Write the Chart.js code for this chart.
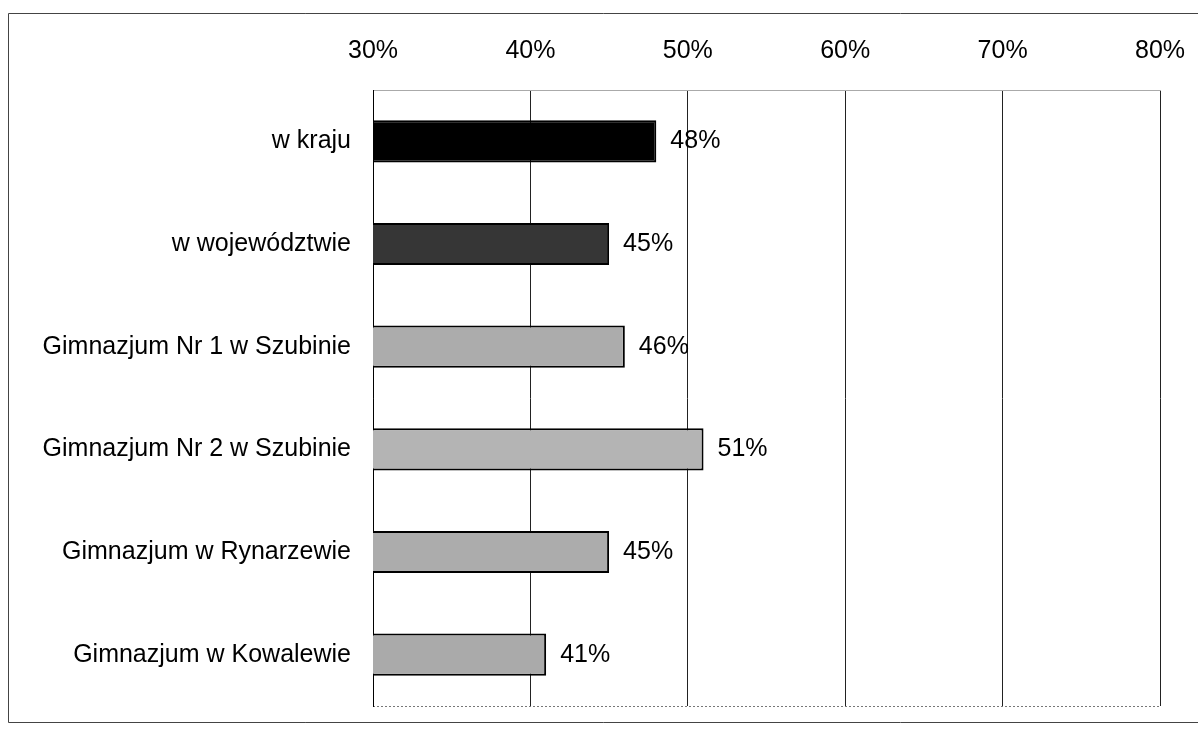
<!DOCTYPE html>
<html>
<head>
<meta charset="utf-8">
<script src="https://cdn.jsdelivr.net/npm/chart.js@4/dist/chart.umd.min.js"></script>
<style>
  html, body { margin: 0; padding: 0; background: #fff; }
  #wrap { width: 1198px; height: 733px; position: relative; }
</style>
</head>
<body>
<div id="wrap"><canvas id="chart" width="1198" height="733"></canvas></div>
<script>
// dane wykresu
const categories = [
  'w kraju',
  'w województwie',
  'Gimnazjum Nr 1 w Szubinie',
  'Gimnazjum Nr 2 w Szubinie',
  'Gimnazjum w Rynarzewie',
  'Gimnazjum w Kowalewie'
];
const values = [48, 45, 46, 51, 45, 41];
const tickValues = [30, 40, 50, 60, 70, 80];
const barColors = ['#000000', '#363636', '#acacac', '#b4b4b4', '#acacac', '#aaaaaa'];

const FONT = "'Liberation Sans', Arial, sans-serif";

// ramka dookoła całego wykresu + dolna krawędź obszaru wykresu
const framePlugin = {
  id: 'frame',
  beforeDraw(chart) {
    const ctx = chart.ctx;
    ctx.save();
    ctx.strokeStyle = '#444';
    ctx.lineWidth = 1;
    ctx.beginPath();
    ctx.moveTo(1198, 13.5);
    ctx.lineTo(8.5, 13.5);
    ctx.lineTo(8.5, 722.5);
    ctx.lineTo(1198, 722.5);
    ctx.stroke();
    const a = chart.chartArea;
    ctx.strokeStyle = '#777';
    ctx.setLineDash([2, 2]);
    ctx.beginPath();
    ctx.moveTo(a.left, Math.round(a.bottom) + 0.5);
    ctx.lineTo(a.right, Math.round(a.bottom) + 0.5);
    ctx.stroke();
    ctx.restore();
  }
};

// etykiety wartości przy słupkach
const valueLabels = {
  id: 'valueLabels',
  afterDatasetsDraw(chart) {
    const ctx = chart.ctx;
    const meta = chart.getDatasetMeta(0);
    ctx.save();
    ctx.font = '25px ' + FONT;
    ctx.fillStyle = '#000';
    ctx.textAlign = 'left';
    ctx.textBaseline = 'middle';
    meta.data.forEach((bar, i) => {
      ctx.fillText(values[i] + '%', bar.x + 14, bar.y);
    });
    ctx.restore();
  }
};

new Chart(document.getElementById('chart'), {
  type: 'bar',
  data: {
    labels: categories,
    datasets: [{
      data: values,
      backgroundColor: barColors,
      borderColor: '#000',
      borderWidth: 2,
      borderSkipped: false,
      categoryPercentage: 1,
      barPercentage: 0.41
    }]
  },
  options: {
    indexAxis: 'y',
    responsive: false,
    animation: false,
    layout: { padding: { left: 0, right: 38, top: 0, bottom: 27 } },
    plugins: {
      legend: { display: false },
      tooltip: { enabled: false }
    },
    scales: {
      x: {
        position: 'top',
        min: 30,
        max: 80,
        afterFit: s => { s.height = 90; s.paddingLeft = 0; s.paddingRight = 0; },
        afterBuildTicks: s => { s.ticks = tickValues.map(v => ({ value: v })); },
        ticks: {
          callback: v => v + '%',
          font: { size: 25, family: FONT },
          color: '#000',
          padding: 24,
          maxRotation: 0
        },
        grid: { color: '#222', lineWidth: 1, drawTicks: false },
        border: { color: '#aaa' }
      },
      y: {
        afterFit: s => { s.width = 373; s.paddingTop = 0; s.paddingBottom = 0; },
        ticks: {
          font: { size: 25, family: FONT },
          color: '#000',
          padding: 22
        },
        grid: { display: false, drawTicks: false },
        border: { color: '#000', width: 1 }
      }
    }
  },
  plugins: [framePlugin, valueLabels]
});
</script>
</body>
</html>
